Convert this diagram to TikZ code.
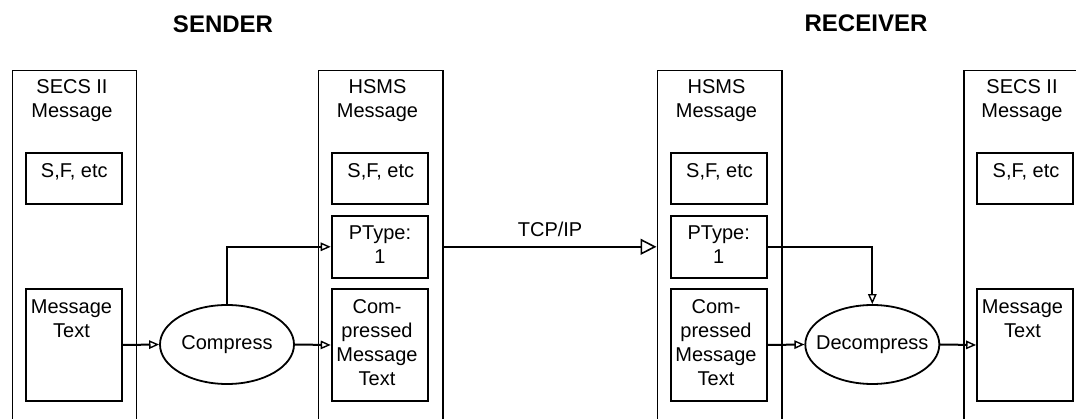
\documentclass[tikz,border=0pt]{standalone}
\usepackage{fontspec}
\setmainfont{Liberation Sans}
\usetikzlibrary{arrows.meta,shapes.geometric}

\tikzset{
  txt/.style={inner sep=0pt, font=\fontsize{20}{24}\selectfont},
  multi/.style={txt, align=center, anchor=north},
  head/.style={inner sep=0pt, anchor=base, font=\fontsize{24}{28}\selectfont\bfseries},
  outerbox/.style={draw, line width=1.5pt, inner sep=0pt, anchor=north west,
    minimum height=420pt},
  field/.style={draw, line width=1.8pt, inner sep=0pt, minimum width=96pt},
  proc/.style={draw, ellipse, line width=1.8pt, inner sep=0pt,
    minimum width=134pt, minimum height=79pt},
  flow/.style={line width=2pt, -{Triangle[open, length=10pt, width=8.5pt, line width=1.4pt]}},
  link/.style={line width=2pt, -{Triangle[open, length=16pt, width=16pt, line width=1.6pt]}},
}

\begin{document}
\begin{tikzpicture}[x=1pt, y=-1pt]
\useasboundingbox (0,0) rectangle (1076,419);
\clip (0,0) rectangle (1076,419);

% headings
\node[head] (sender) at (223,32.3) {SENDER};
\node[head] (receiver) at (866,31.7) {RECEIVER};

% message containers (open at the bottom of the page)
\node[outerbox, minimum width=124pt] (secsL) at (11.7,70) {};
\node[outerbox, minimum width=124.5pt] (hsmsS) at (317.7,70) {};
\node[outerbox, minimum width=124.5pt] (hsmsR) at (656.5,70) {};
\node[outerbox, minimum width=200pt] (secsR) at (963.3,70) {};

\node[multi] (secsLt) at (72,79.3) {SECS II\\Message};
\node[multi] (hsmsSt) at (377.5,79.5) {HSMS\\Message};
\node[multi] (hsmsRt) at (716.5,79.5) {HSMS\\Message};
\node[multi] (secsRt) at (1022,79.3) {SECS II\\Message};

% sender SECS II fields
\node[field, minimum height=51pt] (sfL) at (73.7,178.5) {};
\node[txt, anchor=base] (sfLt) at (74.3,177.7) {S,F, etc};
\node[field, minimum height=112pt] (msgL) at (73.7,345) {};
\node[multi] (msgLt) at (71.5,299.3) {Message\\Text};

% sender HSMS fields
\node[field, minimum height=51pt] (sfS) at (379.6,178.5) {};
\node[txt, anchor=base] (sfSt) at (380.8,177.7) {S,F, etc};
\node[field, minimum height=61.7pt] (ptS) at (379.6,246.8) {};
\node[multi] (ptSt) at (380,226) {PType:\\1};
\node[field, minimum height=112pt] (cmpS) at (379.6,345) {};
\node[multi] (cmpSt) at (377,299.3) {Com-\\pressed\\Message\\Text};

% receiver HSMS fields
\node[field, minimum height=51pt] (sfR) at (718.8,178.5) {};
\node[txt, anchor=base] (sfRt) at (719.5,177.7) {S,F, etc};
\node[field, minimum height=61.7pt] (ptR) at (718.8,246.8) {};
\node[multi] (ptRt) at (718.7,226) {PType:\\1};
\node[field, minimum height=112pt] (cmpR) at (718.8,345) {};
\node[multi] (cmpRt) at (716,299.3) {Com-\\pressed\\Message\\Text};

% receiver SECS II fields
\node[field, minimum height=51pt] (sfRR) at (1025,178.5) {};
\node[txt, anchor=base] (sfRRt) at (1026,177.7) {S,F, etc};
\node[field, minimum height=112pt] (msgR) at (1025,345) {};
\node[multi] (msgRt) at (1022.5,299.3) {Message\\Text};

% processing steps
\node[proc, label={[txt, name=compT]center:Compress}] (comp) at (227,344.5) {};
\node[proc, label={[txt, name=decT]center:Decompress}] (dec) at (872.3,344.5) {};

% data flow
\draw[flow] (msgL.east) -- (comp.west);
\draw[flow] (comp.north) |- (ptS.west);
\draw[flow] (comp.east) -- (cmpS.west);

\draw[link] (ptS.east -| hsmsS.east) -- (ptS.east -| hsmsR.west)
  node[midway, txt, anchor=base, yshift=10pt] (tcp) {TCP/IP};

\draw[flow] (ptR.east) -| (dec.north);
\draw[flow] (cmpR.east) -- (dec.west);
\draw[flow] (dec.east) -- (msgR.west);
\end{tikzpicture}
\end{document}
